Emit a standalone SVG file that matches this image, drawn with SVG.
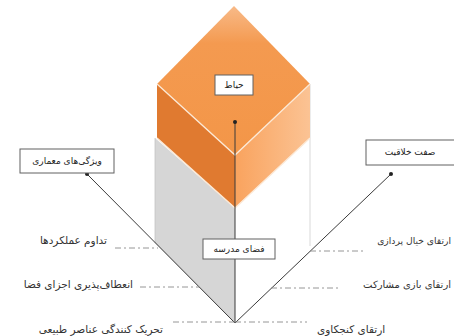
<svg xmlns="http://www.w3.org/2000/svg" width="454" height="336" viewBox="0 0 454 336">
<defs>
<style>
.box{fill:#fff;stroke:#606060;stroke-width:1}
.t{font-family:"DejaVu Sans",sans-serif;font-size:9px;fill:#222}
.lbl{font-family:"DejaVu Sans",sans-serif;font-size:10.5px;fill:#333}
.conn{stroke:#3a3a3a;stroke-width:1;fill:none}
.dash{stroke:#8a8a8a;stroke-width:0.9;fill:none;stroke-dasharray:6 3 2 3}
</style>
<marker id="dot" viewBox="0 0 6 6" refX="3" refY="3" markerWidth="4" markerHeight="4" markerUnits="userSpaceOnUse">
<circle cx="3" cy="3" r="3" fill="#222"/>
</marker>
<linearGradient id="topg" x1="0" y1="0" x2="0" y2="1">
<stop offset="0" stop-color="#F8BA88"/>
<stop offset="0.25" stop-color="#F49A50"/>
<stop offset="1" stop-color="#F39648"/>
</linearGradient>
<linearGradient id="rightg" x1="0" y1="0" x2="1" y2="0">
<stop offset="0" stop-color="#F9A35E"/>
<stop offset="1" stop-color="#FBC394"/>
</linearGradient>
</defs>
<rect width="454" height="336" fill="#fff"/>
<g id="prism">
<polygon points="155,138 235,208 235,323 155,243" fill="#D6D6D6"/>
<line x1="155" y1="138" x2="155" y2="243" stroke="#c4c4c4" stroke-width="0.8"/>
<line x1="310" y1="84" x2="310" y2="246" stroke="#cfcfcf" stroke-width="0.8"/>
<polygon points="157,84 235,155 235,208 157,138" fill="#E07A30"/>
<polygon points="235,155 310,84 310,138 235,208" fill="url(#rightg)"/>
<polygon points="234,6 310,84 235,155 157,84" fill="url(#topg)"/>
<polyline points="157,84 235,155 310,84" fill="none" stroke="#FCE9D6" stroke-width="1.3"/>
<polyline points="157,138 235,208 310,138" fill="none" stroke="#FCE9D6" stroke-width="1.3"/>
</g>
<g id="connectors">
<line class="conn" x1="235" y1="323" x2="235" y2="122" marker-end="url(#dot)"/>
<line class="conn" x1="235" y1="323" x2="87" y2="174" marker-end="url(#dot)"/>
<line class="conn" x1="235" y1="323" x2="391" y2="174" marker-end="url(#dot)"/>
<line class="dash" x1="115" y1="248" x2="158" y2="248"/>
<line class="dash" x1="140" y1="287" x2="199" y2="287"/>
<line class="dash" x1="173" y1="322" x2="235" y2="322"/>
<line class="dash" x1="310" y1="251" x2="366" y2="251"/>
<line class="dash" x1="271" y1="288" x2="340" y2="288"/>
<line class="dash" x1="235" y1="322" x2="307" y2="322"/>
</g>
<g id="node-hayat">
<rect class="box" x="215" y="75" width="38" height="20"/>
<text class="t" x="234" y="88" text-anchor="middle">حیاط</text>
</g>
<g id="node-memari">
<rect class="box" x="20" y="149" width="94" height="24"/>
<text class="t" x="67" y="164" text-anchor="middle">ویژگی‌های معماری</text>
</g>
<g id="node-khalaghiat">
<rect class="box" x="366" y="140" width="96" height="25"/>
<text class="t" x="410" y="155" text-anchor="middle">صفت خلاقیت</text>
</g>
<g id="node-madrese">
<rect class="box" x="203" y="239" width="72" height="20"/>
<text class="t" x="239" y="252" text-anchor="middle">فضای مدرسه</text>
</g>
<g id="labels-left">
<text class="lbl" x="107" y="244" text-anchor="end">تداوم عملکردها</text>
<text class="lbl" x="133" y="288" text-anchor="end">انعطاف‌پذیری اجزای فضا</text>
<text class="lbl" x="163" y="333" text-anchor="end">تحریک کنندگی عناصر طبیعی</text>
</g>
<g id="labels-right">
<text class="lbl" x="451" y="244" text-anchor="end" style="font-size:9.2px">ارتقای خیال پردازی</text>
<text class="lbl" x="451" y="288" text-anchor="end" style="font-size:10px">ارتقای بازی مشارکت</text>
<text class="lbl" x="317" y="333">ارتقای کنجکاوی</text>
</g>
</svg>
